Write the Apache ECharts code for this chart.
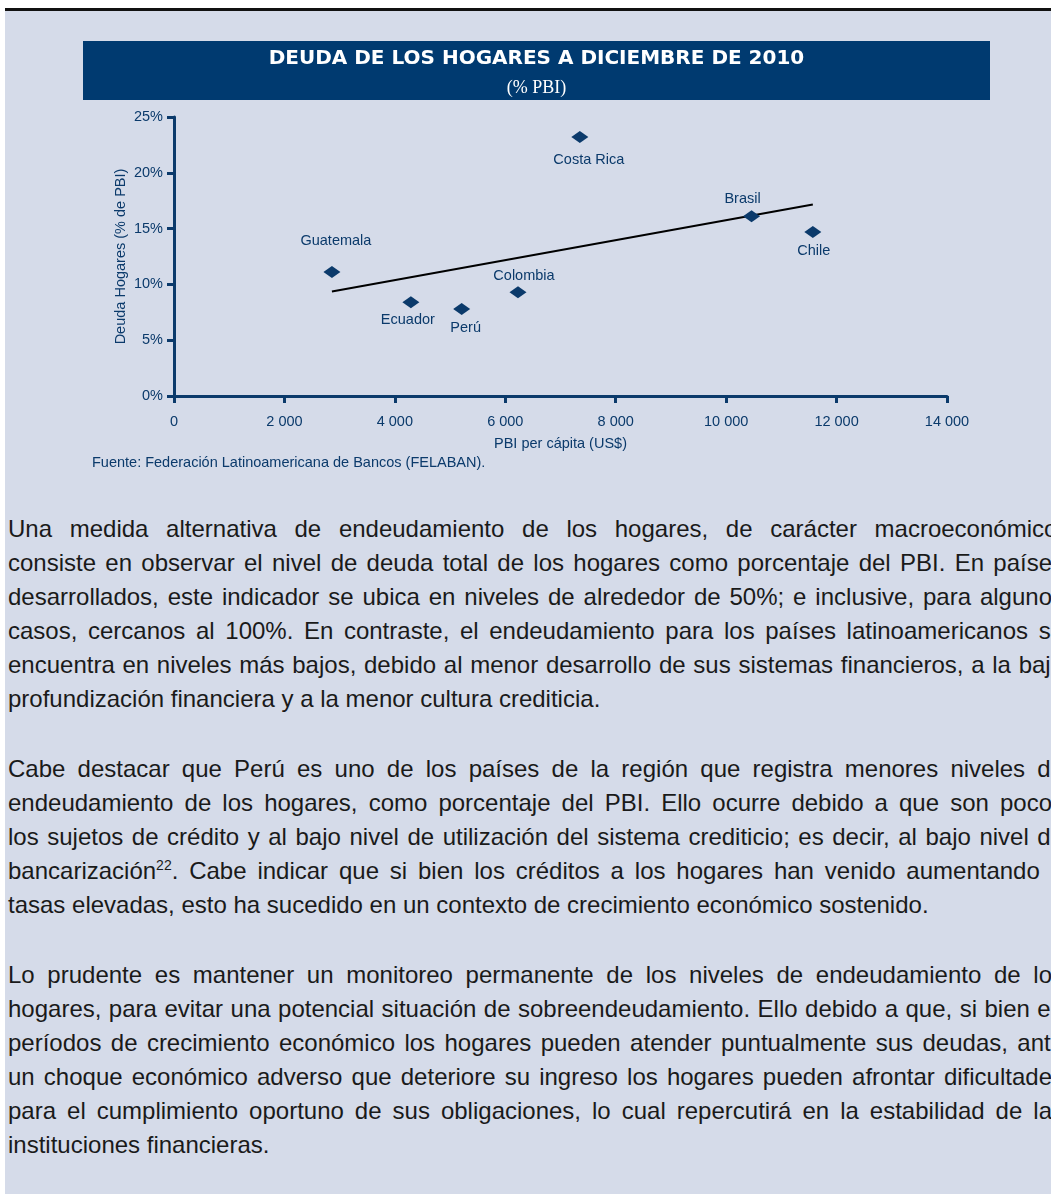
<!DOCTYPE html>
<html>
<head>
<meta charset="utf-8">
<script src="https://cdn.jsdelivr.net/npm/echarts@6/dist/echarts.min.js"></script>
<style>
  html, body { margin: 0; padding: 0; background: #ffffff; }
  body { width: 1051px; height: 1194px; position: relative; overflow: hidden; }
  #bg { position: absolute; left: 5px; top: 11px; right: 0; bottom: 0; background: #D5DBE9; }
  #topline { position: absolute; left: 5px; top: 8px; right: 0; height: 3px; background: #111; }
  #chart { position: absolute; left: 0; top: 0; width: 1051px; height: 500px; }
  #text { position: absolute; left: 8px; top: 512px; width: 1056px;
          font-family: "Liberation Sans", Arial, sans-serif; font-size: 24px; line-height: 34px; color: #1a1a1a; }
  #text p { margin: 0 0 36px 0; }
  #text .l { display: block; text-align: justify; text-align-last: justify; white-space: nowrap; }
  #text .last { text-align: left; text-align-last: left; }
  sup { font-size: 14px; line-height: 0; vertical-align: 9px; }
</style>
</head>
<body>
<div id="bg"></div>
<div id="topline"></div>
<div id="chart"></div>
<div id="text">
<p>
<span class="l">Una medida alternativa de endeudamiento de los hogares, de carácter macroeconómico,</span>
<span class="l">consiste en observar el nivel de deuda total de los hogares como porcentaje del PBI. En países</span>
<span class="l">desarrollados, este indicador se ubica en niveles de alrededor de 50%; e inclusive, para algunos</span>
<span class="l">casos, cercanos al 100%. En contraste, el endeudamiento para los países latinoamericanos se</span>
<span class="l">encuentra en niveles más bajos, debido al menor desarrollo de sus sistemas financieros, a la baja</span>
<span class="l last">profundización financiera y a la menor cultura crediticia.</span>
</p>
<p>
<span class="l">Cabe destacar que Perú es uno de los países de la región que registra menores niveles de</span>
<span class="l">endeudamiento de los hogares, como porcentaje del PBI. Ello ocurre debido a que son pocos</span>
<span class="l">los sujetos de crédito y al bajo nivel de utilización del sistema crediticio; es decir, al bajo nivel de</span>
<span class="l">bancarización<sup>22</sup>. Cabe indicar que si bien los créditos a los hogares han venido aumentando a</span>
<span class="l last">tasas elevadas, esto ha sucedido en un contexto de crecimiento económico sostenido.</span>
</p>
<p>
<span class="l">Lo prudente es mantener un monitoreo permanente de los niveles de endeudamiento de los</span>
<span class="l">hogares, para evitar una potencial situación de sobreendeudamiento. Ello debido a que, si bien en</span>
<span class="l">períodos de crecimiento económico los hogares pueden atender puntualmente sus deudas, ante</span>
<span class="l">un choque económico adverso que deteriore su ingreso los hogares pueden afrontar dificultades</span>
<span class="l">para el cumplimiento oportuno de sus obligaciones, lo cual repercutirá en la estabilidad de las</span>
<span class="l last">instituciones financieras.</span>
</p>
</div>
<script>
// ---- data ----
const countries = ['Guatemala', 'Ecuador', 'Perú', 'Colombia', 'Costa Rica', 'Brasil', 'Chile'];
const gdpPerCapita = [2860, 4290, 5210, 6230, 7350, 10460, 11570];   // US$
const householdDebt = [11.1, 8.4, 7.8, 9.3, 23.2, 16.1, 14.7];      // % of GDP
const trendX = [2860, 11570];
const trendY = [9.36, 17.16];
const xTicks = [0, 2000, 4000, 6000, 8000, 10000, 12000, 14000];
const yTicks = [0, 5, 10, 15, 20, 25];

// ---- styling (label placement around each marker) ----
const labelOffsets = {
  'Guatemala': [4, -31], 'Ecuador': [-3, 18], 'Perú': [4, 19], 'Colombia': [6, -16],
  'Costa Rica': [9, 23], 'Brasil': [-9, -17], 'Chile': [1, 19]
};
const NAVY = '#0B3A6B';
const FONT = "'Liberation Sans', Arial, sans-serif";
const FS = 14.5;

const chart = echarts.init(document.getElementById('chart'), null, { renderer: 'canvas' });
const fmtThousands = v => String(v).replace(/\B(?=(\d{3})+(?!\d))/g, ' ');

chart.setOption({
  backgroundColor: 'transparent',
  animation: false,
  title: {
    text: 'DEUDA DE LOS HOGARES A DICIEMBRE DE 2010',
    subtext: '(% PBI)',
    left: 536.5, top: 49, textAlign: 'center', padding: 0, itemGap: 10,
    textStyle: { color: '#ffffff', fontFamily: "'DejaVu Sans', sans-serif", fontWeight: 'bold', fontSize: 20, lineHeight: 20 },
    subtextStyle: { color: '#ffffff', fontFamily: "'Liberation Serif', serif", fontSize: 18, lineHeight: 18 },
    z: 10
  },
  graphic: [
    { type: 'rect', shape: { x: 83, y: 41, width: 907, height: 59 }, style: { fill: '#003A70' }, z: -1 },
    { type: 'text', left: 92, top: 455,
      style: { text: 'Fuente: Federación Latinoamericana de Bancos (FELABAN).', fill: NAVY, font: FS + 'px ' + FONT } }
  ],
  grid: { left: 174, top: 117, width: 773, height: 279, containLabel: false },
  xAxis: {
    type: 'value', min: xTicks[0], max: xTicks[xTicks.length - 1], interval: 2000,
    name: 'PBI per cápita (US$)', nameLocation: 'middle', nameGap: 40, nameMoveOverlap: false,
    nameTextStyle: { color: NAVY, fontSize: FS, fontFamily: FONT },
    axisLine: { show: true, lineStyle: { color: NAVY, width: 3 } },
    axisTick: { show: true, length: 7, lineStyle: { color: NAVY, width: 3 } },
    axisLabel: { color: NAVY, fontSize: FS, fontFamily: FONT, margin: 18, formatter: v => fmtThousands(v) },
    splitLine: { show: false }
  },
  yAxis: {
    type: 'value', min: yTicks[0], max: yTicks[yTicks.length - 1], interval: 5,
    name: 'Deuda Hogares (% de PBI)', nameLocation: 'middle', nameGap: 46, nameRotate: 90, nameMoveOverlap: false,
    nameTextStyle: { color: NAVY, fontSize: FS, fontFamily: FONT },
    axisLine: { show: true, lineStyle: { color: NAVY, width: 3 } },
    axisTick: { show: true, length: 7, lineStyle: { color: NAVY, width: 3 } },
    axisLabel: { color: NAVY, fontSize: FS, fontFamily: FONT, margin: 11, formatter: '{value}%' },
    splitLine: { show: false }
  },
  series: [
    {
      type: 'line',
      data: trendX.map((x, i) => [x, trendY[i]]),
      symbol: 'none',
      lineStyle: { color: '#000000', width: 2 },
      z: 2
    },
    {
      type: 'scatter',
      symbol: 'diamond',
      symbolSize: [17, 12],
      itemStyle: { color: NAVY, opacity: 1 },
      z: 3,
      data: countries.map((c, i) => ({
        name: c,
        value: [gdpPerCapita[i], householdDebt[i]],
        label: { offset: labelOffsets[c] }
      })),
      label: {
        show: true, position: 'inside', formatter: '{b}',
        color: NAVY, fontSize: FS, fontFamily: FONT
      }
    }
  ]
});
</script>
</body>
</html>
